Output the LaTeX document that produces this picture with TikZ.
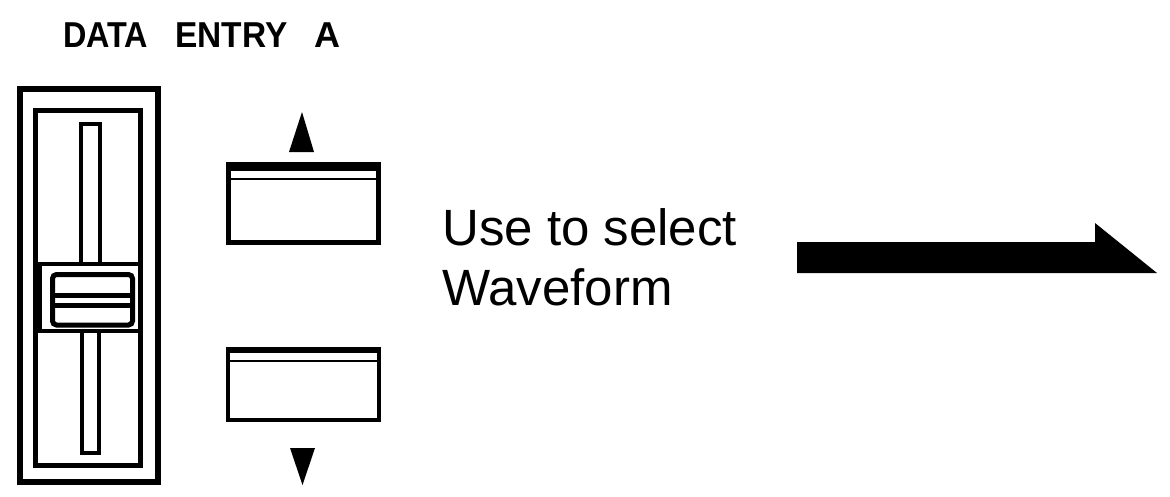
\documentclass[tikz,border=0pt]{standalone}
\usepackage{fontspec}
\setmainfont{Liberation Sans}
\begin{document}
\begin{tikzpicture}[x=1pt,y=-1pt,
  ink/.style={draw=black,line width=#1},
  ink/.default=4pt,
  label text/.style={inner sep=0pt,anchor=base west,font=\fontsize{51}{60}\selectfont},
  title text/.style={inner sep=0pt,anchor=base west,font=\fontsize{36}{40}\selectfont\bfseries}]
\useasboundingbox[fill=white] (0,0) rectangle (1170,496);

% title
\node[title text] (title) at (63,47) {\scalebox{0.9}[1]{DATA}\hspace{27pt}\scalebox{0.93}[1]{ENTRY}\hspace{27pt}A};

% slider housing
\draw[ink=6pt] (20,88.5) rectangle (158,481.5);
\draw[ink=3pt] (21.5,88.5) -- (21.5,481.5);
\draw[ink=5pt] (35,110.5) rectangle (140,465);
% tracks
\draw[ink=4pt] (80.5,124) rectangle (99.5,264);
\draw[ink=4pt] (81.5,331) rectangle (99,453);
% knob
\draw[ink=4pt,fill=white] (38,264) rectangle (140,331);
\draw[ink=3pt] (40,264) -- (40,331);
\draw[ink=5pt,rounded corners=4pt] (52.5,274.5) rectangle (132.5,325);
\fill (52,293) rectangle (133,298);
\fill (52,303) rectangle (133,308);

% up button
\draw[ink=5pt] (228.5,164.5) rectangle (378.5,242);
\fill (226,162) rectangle (381,171);
\draw[ink=1.5pt] (231,179) -- (376,179);
\fill (302,112) -- (314,152) -- (289,152) -- cycle;

% down button
\draw[ink=4pt] (228,349) rectangle (379,419.5);
\fill (226,347) rectangle (381,353);
\draw[ink=1.5pt] (230,361) -- (377,361);
\fill (290,448) -- (315,448) -- (302.5,485) -- cycle;

% text
\node[label text] (use1) at (442,245) {Use to select};
\node[label text] (use2) at (442,305) {Waveform};

% half arrow
\fill (797,242) -- (1095,242) -- (1095,223) -- (1157,273) -- (797,273) -- cycle;
\end{tikzpicture}
\end{document}
